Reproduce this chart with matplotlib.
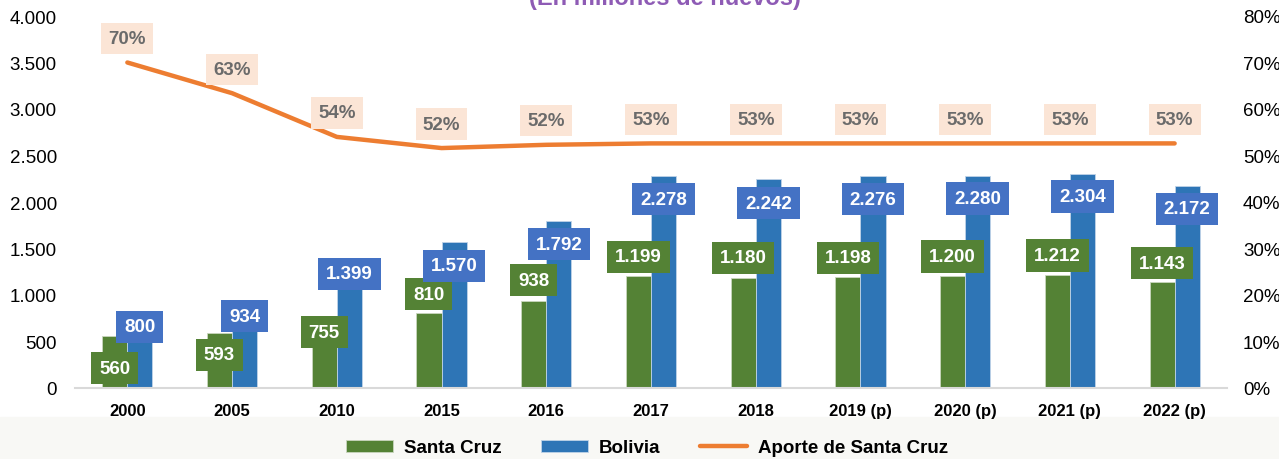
import numpy as np
import matplotlib.pyplot as plt
from matplotlib.patches import Rectangle

plt.rcParams['font.family'] = ['Liberation Sans', 'DejaVu Sans']

# Data
years = ['2000', '2005', '2010', '2015', '2016', '2017', '2018',
         '2019 (p)', '2020 (p)', '2021 (p)', '2022 (p)']
santa_cruz = [560, 593, 755, 810, 938, 1199, 1180, 1198, 1200, 1212, 1143]
bolivia = [800, 934, 1399, 1570, 1792, 2278, 2242, 2276, 2280, 2304, 2172]
aporte = [0.70, 0.634, 0.54, 0.516, 0.523, 0.526, 0.526, 0.526, 0.526, 0.526, 0.526]

green = '#548235'
blue_bar = '#2E75B6'
blue_lbl = '#4472C4'
orange = '#ED7D31'

# label placement (offset from bar top, in axis units), as Excel left them
green_off = [-345, -238, -153, 200, 223, 210, 218, 200, 210, 210, 201]
blue_off = [-144, -160, -173, -258, -244, -246, -253, -244, -245, -245, -247]


def fmt_miles(v):
    return f'{v:,.0f}'.replace(',', '.')


fig = plt.figure(figsize=(12.79, 4.60), dpi=100)
# light band at the bottom of the slide
fig.patches.append(Rectangle((0, 0), 1, 42 / 460, transform=fig.transFigure,
                             color='#F8F8F5', zorder=-10))

ax = fig.add_axes([75 / 1279, 71 / 460, 1152 / 1279, 372 / 460])
ax2 = ax.twinx()
ax.set_zorder(ax2.get_zorder() + 1)
ax.patch.set_visible(False)

x = np.arange(len(years))
w = 0.24
ax.bar(x - w / 2, santa_cruz, w, color=green, edgecolor='#C9D6BE', linewidth=0.6,
       label='Santa Cruz', zorder=2)
ax.bar(x + w / 2, bolivia, w, color=blue_bar, edgecolor='#BFD3E8', linewidth=0.6,
       label='Bolivia', zorder=2)

ax.set_xlim(-0.5, len(years) - 0.5)
ax.set_ylim(0, 4000)
ax.set_yticks(np.arange(0, 4001, 500))
ax.set_yticklabels([fmt_miles(v) for v in np.arange(0, 4001, 500)], fontsize=13.5)
ax.set_xticks(x)
ax.set_xticklabels(years, fontsize=12, fontweight='bold')
ax.tick_params(axis='x', length=0, pad=10.5)
ax.tick_params(axis='y', length=0, pad=13)
for s in ['top', 'right', 'left']:
    ax.spines[s].set_visible(False)
ax.spines['bottom'].set_color('#D9D9D9')
ax.spines['bottom'].set_linewidth(1.5)

# Bar labels (Excel-style boxes)
for i, v in enumerate(santa_cruz):
    ax.text(x[i] - w / 2, v + green_off[i], fmt_miles(v), ha='center', va='center',
            color='white', fontsize=13.5, fontweight='bold', zorder=5,
            bbox=dict(boxstyle='square,pad=0.42', fc=green, ec='none'))
for i, v in enumerate(bolivia):
    ax.text(x[i] + w / 2, v + blue_off[i], fmt_miles(v), ha='center', va='center',
            color='white', fontsize=13.5, fontweight='bold', zorder=5,
            bbox=dict(boxstyle='square,pad=0.42', fc=blue_lbl, ec='none'))

# Aporte line on secondary axis
ax2.plot(x, aporte, color=orange, linewidth=3.2, solid_capstyle='round',
         label='Aporte de Santa Cruz', zorder=3)
ax2.set_ylim(0, 0.8)
ax2.set_yticks(np.arange(0, 0.81, 0.1))
ax2.set_yticklabels([f'{int(round(t * 100))}%' for t in np.arange(0, 0.81, 0.1)],
                    fontsize=13.5)
ax2.tick_params(axis='y', length=0, pad=11.5)
for s in ['top', 'right', 'left', 'bottom']:
    ax2.spines[s].set_visible(False)
for i, v in enumerate(aporte):
    ax.text(x[i], (v + 0.0515) * 5000, f'{v * 100:.0f}%', ha='center', va='center',
            color='#6B6B6B', fontsize=13.5, fontweight='bold', zorder=5,
            bbox=dict(boxstyle='square,pad=0.38', fc='#FBE5D6', ec='none'))

# Title (cut off at the top in the original)
fig.text(665 / 1279, 1 - 5 / 460, '(En millones de nuevos)', ha='center', va='baseline',
         color='#8E5BB5', fontsize=17, fontweight='bold')

h1, l1 = ax.get_legend_handles_labels()
h2, l2 = ax2.get_legend_handles_labels()
fig.legend(h1 + h2, l1 + l2, loc='center', bbox_to_anchor=(647 / 1279, 11 / 460), ncol=3,
           frameon=False, prop={'size': 13.5, 'weight': 'bold'},
           handlelength=2.5, handleheight=0.6, columnspacing=2.1, handletextpad=0.6)

fig.savefig('out.png', dpi=100)
